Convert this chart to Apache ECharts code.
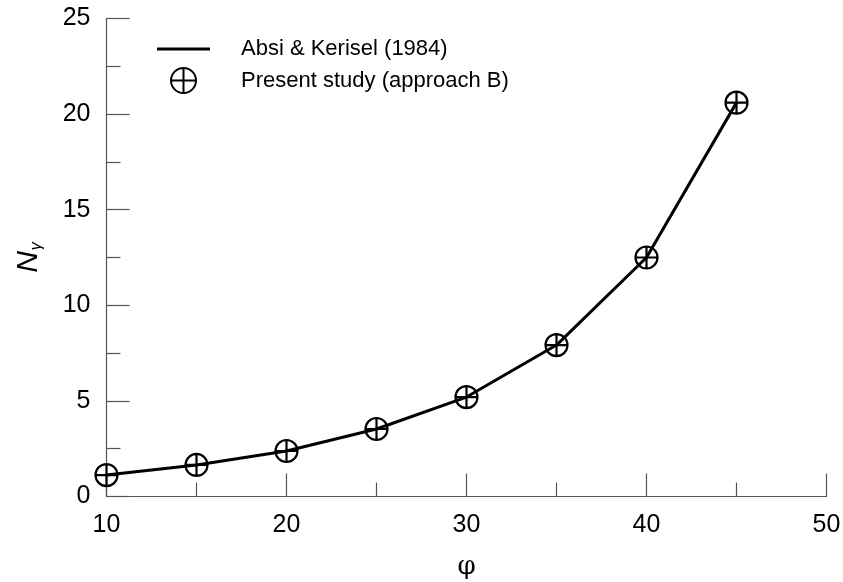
<!DOCTYPE html>
<html>
<head>
<meta charset="utf-8">
<script src="https://cdn.jsdelivr.net/npm/echarts@6/dist/echarts.min.js"></script>
<style>html,body{margin:0;padding:0;background:#fff}#c{width:843px;height:582px}</style>
</head>
<body>
<div id="c"></div>
<script>
const phi = [10, 15, 20, 25, 30, 35, 40, 45];
const absiKerisel = [1.12, 1.65, 2.38, 3.53, 5.2, 7.92, 12.5, 20.6];
const presentStudy = [1.12, 1.65, 2.38, 3.53, 5.2, 7.92, 12.5, 20.6];
const xTicks = [10, 20, 30, 40, 50];
const yTicks = [0, 5, 10, 15, 20, 25];

const FONT = '"Liberation Sans", Arial, sans-serif';
const sym = 'path://M0,-10 A10,10 0 1,1 0,10 A10,10 0 1,1 0,-10 Z M-10,0 L10,0 M0,-10 L0,10';

const chart = echarts.init(document.getElementById('c'));
chart.setOption({
  animation: false,
  backgroundColor: '#fff',
  grid: { left: 106.5, right: 16.5, top: 18.5, bottom: 85.5, containLabel: false, outerBoundsMode: 'none' },
  legend: {
    left: 152, top: 33, orient: 'vertical',
    itemWidth: 53, itemHeight: 25, itemGap: 7,
    textStyle: { fontFamily: FONT, fontSize: 22, color: '#000', padding: [0, 0, 0, 26] },
    data: [
      { name: 'Absi & Kerisel (1984)', icon: 'path://M0,0 L53,0 L53,3 L0,3 Z', itemStyle: { color: '#000' } },
      { name: 'Present study (approach B)', icon: sym, itemStyle: { color: 'transparent', borderColor: '#000', borderWidth: 2 } }
    ]
  },
  xAxis: {
    type: 'value', min: xTicks[0], max: xTicks[xTicks.length - 1], interval: 10,
    name: 'φ', nameLocation: 'middle', nameGap: 58,
    nameTextStyle: { fontFamily: '"DejaVu Serif", serif', fontSize: 26, color: '#000' },
    axisLine: { show: true, onZero: false, lineStyle: { color: '#555', width: 1.2 } },
    axisTick: { show: true, inside: true, length: 23, lineStyle: { color: '#555', width: 1.2 } },
    minorTick: { show: true, splitNumber: 2, length: 14, lineStyle: { color: '#555', width: 1.2 } },
    axisLabel: { fontFamily: FONT, fontSize: 25, color: '#000', margin: 16 },
    splitLine: { show: false }
  },
  yAxis: {
    type: 'value', min: yTicks[0], max: yTicks[yTicks.length - 1], interval: 5,
    name: '{n|N}{s|γ}', nameLocation: 'middle', nameGap: 62, nameRotate: 90,
    nameTextStyle: {
      rich: {
        n: { fontFamily: FONT, fontStyle: 'italic', fontSize: 30, color: '#000' },
        s: { fontFamily: FONT, fontStyle: 'italic', fontSize: 16, color: '#000', verticalAlign: 'bottom', padding: [16, 0, 0, 1] }
      }
    },
    axisLine: { show: true, onZero: false, lineStyle: { color: '#555', width: 1.2 } },
    axisTick: { show: true, inside: true, length: 23, lineStyle: { color: '#555', width: 1.2 } },
    minorTick: { show: true, splitNumber: 2, length: 14, lineStyle: { color: '#555', width: 1.2 } },
    axisLabel: { fontFamily: FONT, fontSize: 25, color: '#000', margin: 16 },
    splitLine: { show: false }
  },
  series: [
    {
      name: 'Absi & Kerisel (1984)', type: 'line', symbol: 'none',
      data: phi.map((p, i) => [p, absiKerisel[i]]),
      lineStyle: { color: '#000', width: 3 }, itemStyle: { color: '#000' }, z: 2
    },
    {
      name: 'Present study (approach B)', type: 'scatter', symbol: sym, symbolSize: 22,
      data: phi.map((p, i) => [p, presentStudy[i]]),
      itemStyle: { color: 'transparent', borderColor: '#000', borderWidth: 2.2, opacity: 1 }, z: 3
    }
  ]
});
</script>
</body>
</html>
